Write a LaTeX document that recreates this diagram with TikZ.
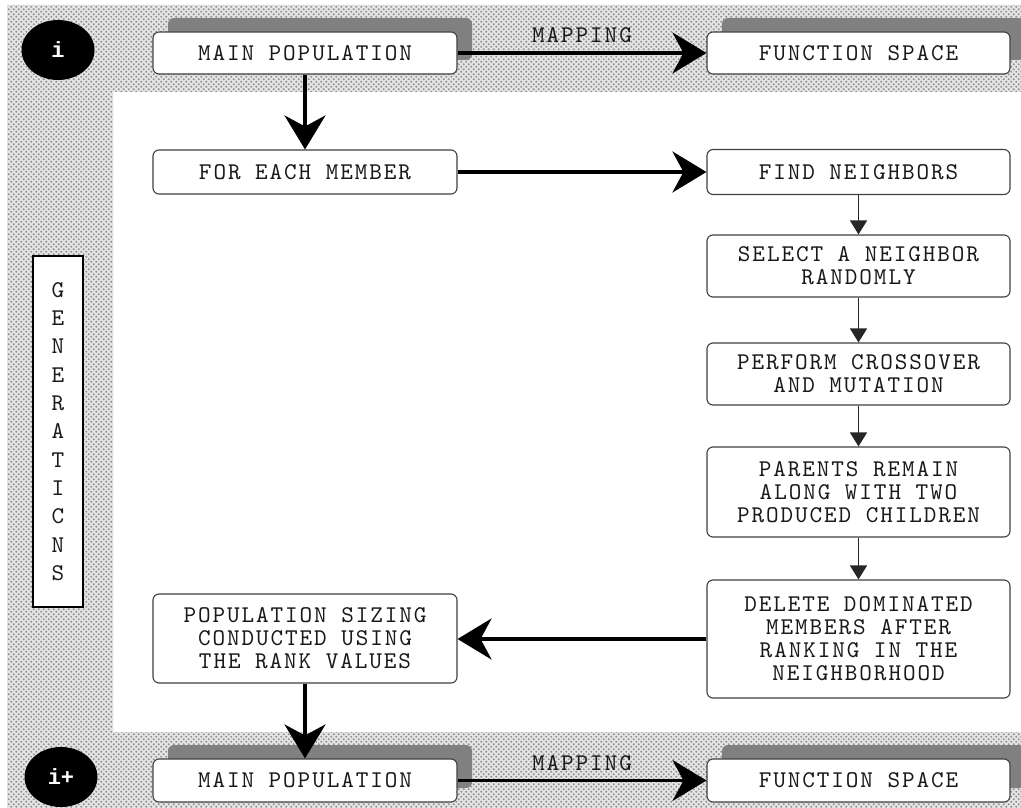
\documentclass[tikz,border=0pt]{standalone}
\usepackage{fontspec}
\newfontfamily\circfont{Liberation Mono}
\newfontfamily\boxmono{lmmono10-regular.otf}[LetterSpace=8]
\newfontfamily\genmono{lmmono10-regular.otf}
\usetikzlibrary{arrows.meta,patterns,shadows,shapes.geometric}
\newcommand\bxfont{\boxmono\fontsize{24}{23}\selectfont}
\newcommand\genfont{\genmono\fontsize{24}{28.3}\selectfont}
\pgfdeclarepatternformonly{stipple}{\pgfpoint{-1pt}{-1pt}}{\pgfpoint{6pt}{6pt}}{\pgfpoint{5pt}{5pt}}{%
  \pgfpathcircle{\pgfpoint{1.25pt}{1.25pt}}{1.1pt}%
  \pgfpathcircle{\pgfpoint{3.75pt}{3.75pt}}{1.1pt}%
  \pgfusepath{fill}}
\begin{document}
\begin{tikzpicture}[x=1pt,y=-1pt,
  box/.style={draw=black!75, line width=1.1pt, rounded corners=6pt, fill=white,
    align=center, font=\bxfont, text=black!90, inner sep=0pt},
  sbox/.style={box, general shadow={fill=black!50, shadow xshift=15pt, shadow yshift=14pt}},
  bigarrow/.style={line width=3.6pt, -{Stealth[length=34pt,width=41pt,inset=11pt]}},
  smallarrow/.style={line width=1.3pt, black!85, -{Triangle[length=14pt,width=17pt]}},
  badge/.style={ellipse, fill=black, text=white, minimum width=73pt, minimum height=60pt,
    inner sep=0pt, font=\circfont\bfseries\fontsize{22}{22}\selectfont},
  lbl/.style={font=\bxfont, text=black!90, inner sep=0pt}
]
\useasboundingbox (0,0) rectangle (1021,808);
\clip (0,0) rectangle (1021,808);
\fill[white] (0,0) rectangle (1021,808);
% stippled band
\fill[gray!20] (7,5) -- (1021,5) -- (1021,92) -- (113,92) -- (113,732) -- (1021,732) -- (1021,808) -- (7,808) -- cycle;
\path[pattern=stipple, pattern color=gray!85] (7,5) -- (1021,5) -- (1021,92) -- (113,92) -- (113,732) -- (1021,732) -- (1021,808) -- (7,808) -- cycle;

% badges
\node[badge] (ci) at (58,50) {i};
\node[badge] (cip) at (61,777) {i+};

% top row
\node[sbox, minimum width=304pt, minimum height=42pt] (mp1) at (305,53) {MAIN POPULATION};
\node[sbox, minimum width=303pt, minimum height=42pt] (fs1) at (858.5,53) {FUNCTION SPACE};

% middle
\node[box, minimum width=304pt, minimum height=44pt] (fe) at (305,172) {FOR EACH MEMBER};
\node[box, minimum width=303pt, minimum height=45pt] (fn) at (858.5,172) {FIND NEIGHBORS};
\node[box, minimum width=303pt, minimum height=62pt] (sel) at (858.5,266) {SELECT A NEIGHBOR\\RANDOMLY};
\node[box, minimum width=303pt, minimum height=62pt] (per) at (858.5,374) {PERFORM CROSSOVER\\AND MUTATION};
\node[box, minimum width=303pt, minimum height=90pt] (par) at (858.5,492) {PARENTS REMAIN\\ALONG WITH TWO\\PRODUCED CHILDREN};
\node[box, minimum width=303pt, minimum height=118pt] (del) at (858.5,639) {DELETE DOMINATED\\MEMBERS AFTER\\RANKING IN THE\\NEIGHBORHOOD};
\node[box, minimum width=304pt, minimum height=89pt] (ps) at (305,638.5) {POPULATION SIZING\\CONDUCTED USING\\THE RANK VALUES};

% bottom row
\node[sbox, minimum width=304pt, minimum height=43pt] (mp2) at (305,780.5) {MAIN POPULATION};
\node[sbox, minimum width=303pt, minimum height=43pt] (fs2) at (858.5,780.5) {FUNCTION SPACE};

% generations
\node[draw=black, line width=1.5pt, fill=white, minimum width=50pt, minimum height=351pt,
  inner sep=0pt, align=center, font=\genfont, text=black!90] (gen) at (58,431.5)
  {G\\E\\N\\E\\R\\A\\T\\I\\C\\N\\S};

% connectors
\draw[bigarrow] (mp1) -- node[lbl, above=8pt]{MAPPING} (fs1);
\draw[bigarrow] (mp2) -- node[lbl, above=8pt]{MAPPING} (fs2);
\draw[bigarrow] (mp1) -- (fe);
\draw[bigarrow] (fe) -- (fn);
\draw[smallarrow] (fn) -- (sel);
\draw[smallarrow] (sel) -- (per);
\draw[smallarrow] (per) -- (par);
\draw[smallarrow] (par) -- (del);
\draw[bigarrow] (del.west) -- (del.west -| ps.east);
\draw[bigarrow] (ps) -- (mp2);
\end{tikzpicture}
\end{document}
